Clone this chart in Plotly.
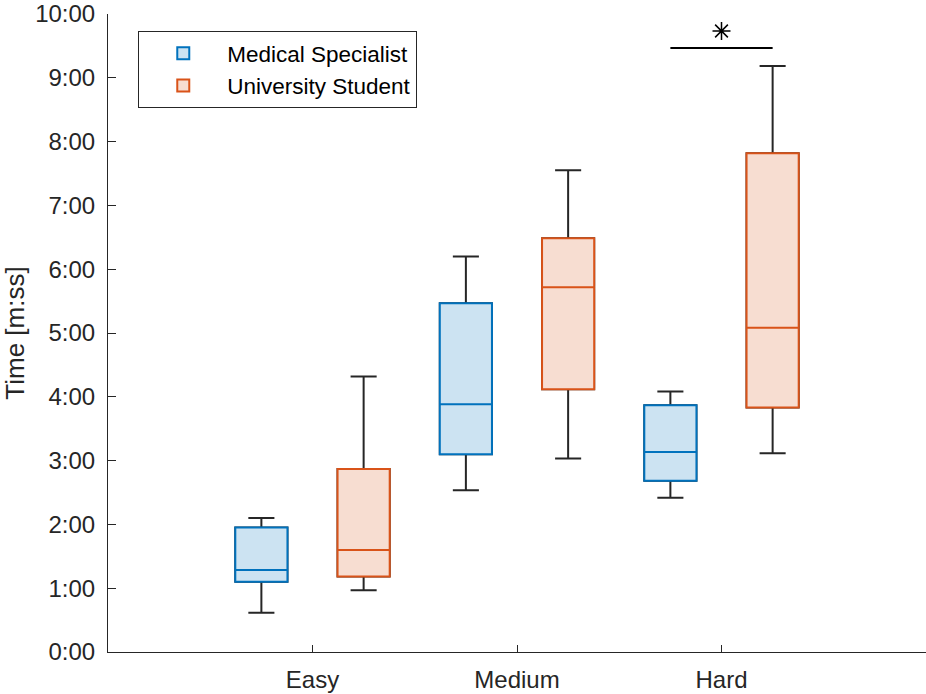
"""Task completion time per difficulty level, specialists vs students."""

import plotly.graph_objects as go

# difficulty levels and their positions on the x axis
levels = ["Easy", "Medium", "Hard"]
level_pos = [1, 2, 3]

# box statistics in seconds (lower whisker, Q1, median, Q3, upper whisker)
specialist_low = [37, 152, 145]
specialist_q1 = [66, 186, 161]
specialist_median = [77, 233, 188]
specialist_q3 = [117, 328, 232]
specialist_high = [126, 372, 245]

student_low = [58, 182, 187]
student_q1 = [71, 247, 230]
student_median = [96, 343, 305]
student_q3 = [172, 389, 469]
student_high = [259, 453, 551]

# y ticks every minute, labelled m:ss
tick_seconds = [0, 60, 120, 180, 240, 300, 360, 420, 480, 540, 600]
tick_labels = ["0:00", "1:00", "2:00", "3:00", "4:00", "5:00",
               "6:00", "7:00", "8:00", "9:00", "10:00"]

# significance bracket between the two Hard boxes
sig_x = [2.75, 3.25]
sig_y = [568, 568]
star_x = [3]
star_y = [584]

OFFSET = 0.25
BOX_W = 0.255
TEXT = "#262626"
FONT = "Liberation Sans, Arial, sans-serif"

groups = [
    ("Medical Specialist", -OFFSET, "#0072BD", "#CCE3F2",
     specialist_low, specialist_q1, specialist_median, specialist_q3, specialist_high),
    ("University Student", OFFSET, "#D95319", "#F7DDD1",
     student_low, student_q1, student_median, student_q3, student_high),
]

fig = go.Figure()

# black whiskers first, coloured boxes on top
for name, off, edge, fill, lo, q1, med, q3, hi in groups:
    xs = [p + off for p in level_pos]
    fig.add_trace(go.Box(
        x=xs, lowerfence=lo, q1=q1, median=med, q3=q3, upperfence=hi,
        width=BOX_W, whiskerwidth=0.5, boxpoints=False,
        line=dict(color="#262626", width=2), fillcolor="rgba(0,0,0,0)",
        showlegend=False, hoverinfo="skip",
    ))

for name, off, edge, fill, lo, q1, med, q3, hi in groups:
    xs = [p + off for p in level_pos]
    fig.add_trace(go.Box(
        x=xs, lowerfence=q1, q1=q1, median=med, q3=q3, upperfence=q3,
        width=BOX_W, whiskerwidth=0, boxpoints=False,
        line=dict(color=edge, width=2), fillcolor=fill,
        name=name,
    ))

fig.add_trace(go.Scatter(
    x=sig_x, y=sig_y, mode="lines",
    line=dict(color="black", width=2), showlegend=False, hoverinfo="skip",
))
fig.add_trace(go.Scatter(
    x=star_x, y=star_y, mode="markers",
    marker=dict(symbol="asterisk-open", size=15, color="black",
                line=dict(color="black", width=1.5)),
    showlegend=False, hoverinfo="skip",
))

fig.update_layout(
    width=926, height=694,
    margin=dict(l=108, r=0, t=7, b=42),
    plot_bgcolor="white", paper_bgcolor="white",
    font=dict(family=FONT, size=24, color=TEXT),
    boxmode="overlay",
    legend=dict(
        x=0.037, y=0.973, xanchor="left", yanchor="top",
        bordercolor=TEXT, borderwidth=1, bgcolor="white",
        font=dict(size=22.5, color="black"), tracegroupgap=0,
        itemwidth=78,
    ),
)
fig.update_xaxes(
    range=[0, 4], tickvals=level_pos, ticktext=levels,
    showline=True, linecolor=TEXT, linewidth=1,
    ticks="inside", ticklen=7, tickcolor=TEXT,
    showgrid=False, zeroline=False, ticklabelstandoff=6,
    ticklabeloverflow="allow",
)
fig.update_yaxes(
    range=[0, 600], tickvals=tick_seconds, ticktext=tick_labels,
    showline=True, linecolor=TEXT, linewidth=1,
    ticks="inside", ticklen=8, tickcolor=TEXT,
    showgrid=False, zeroline=False, ticklabelstandoff=7,
    ticklabeloverflow="allow",
    title=dict(text="Time [m:ss]", font=dict(size=26), standoff=12),
)

# drop the browser's default page margin so the figure sits at the top-left
fig.write_html(
    "out.html",
    config={"displayModeBar": False},
    post_script="document.body.style.margin = '0';",
)
